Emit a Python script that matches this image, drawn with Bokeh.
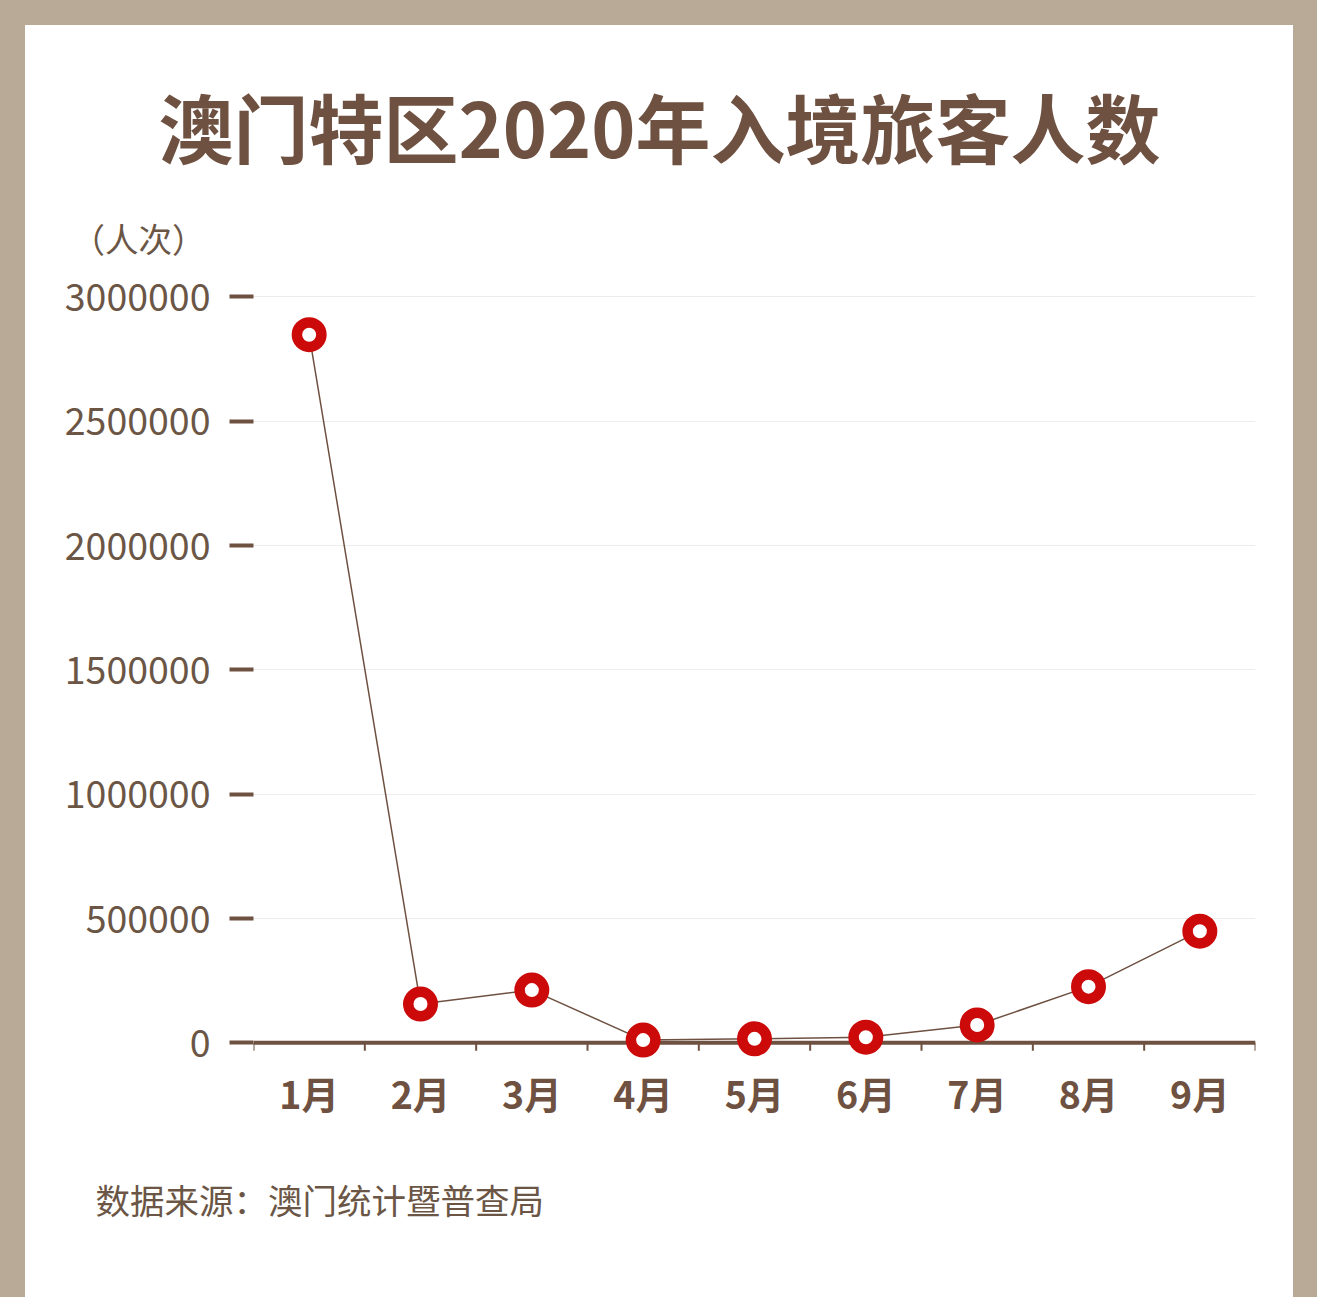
from bokeh.plotting import figure
from bokeh.models import Range1d, FixedTicker, Span, Spacer, NumeralTickFormatter, ColumnDataSource, Title
from bokeh.layouts import column, row
from bokeh.embed import file_html
from bokeh.resources import INLINE

# ---- data ----
months = ["1月", "2月", "3月", "4月", "5月", "6月", "7月", "8月", "9月"]
visitors = [2848000, 156000, 212000, 11000, 16000, 22600, 71800, 226000, 449000]
y_ticks = [0, 500000, 1000000, 1500000, 2000000, 2500000, 3000000]
title_text = "澳门特区2020年入境旅客人数"
unit_text = "（人次）"
source_text = "数据来源：澳门统计暨普查局"

# ---- style ----
BEIGE = "#b9aa97"
BROWN = "#6e5141"
LIGHT_BROWN = "#6b5646"
RED = "#cc0a0a"
FONT = "Noto Sans CJK SC"

S = 1317 / 1333          # scale from reference pixels to our picture
def m(v):
    return v * S

TOTAL_W, TOTAL_H = 1317, 1297
PAD = 25                  # beige border top/left
W = 1268                  # white panel width
H = TOTAL_H - PAD

# frame of main figure (picture coords)
FL, FR = round(m(256)), round(m(1270))
FT, FB = round(m(280)), round(m(1072))
ZERO_Y, TOP_Y = m(1055), m(300)
Y_PER_PX = 3000000 / (ZERO_Y - TOP_Y)

x_pos = [i + 0.5 for i in range(len(months))]
bounds = list(range(len(months) + 1))

p = figure(
    width=W, height=H, output_backend="svg", toolbar_location=None,
    x_range=Range1d(0, len(months)),
    y_range=Range1d(-(FB - ZERO_Y) * Y_PER_PX, 3000000 + (TOP_Y - FT) * Y_PER_PX),
    min_border_left=FL - PAD, min_border_right=PAD + W - FR,
    min_border_top=FT - PAD, min_border_bottom=PAD + H - FB,
    background_fill_color="white", border_fill_color="white",
)
p.outline_line_color = None

# y axis
p.yaxis.ticker = FixedTicker(ticks=y_ticks)
p.yaxis.formatter = NumeralTickFormatter(format="0")
p.yaxis.axis_line_color = None
p.yaxis.major_tick_out = 24
p.yaxis.major_tick_in = 0
p.yaxis.major_tick_line_width = 4
p.yaxis.major_tick_line_color = BROWN
p.yaxis.minor_tick_line_color = None
p.yaxis.major_label_standoff = 19
p.yaxis.major_label_text_font = FONT
p.yaxis.major_label_text_font_size = "37.5px"
p.yaxis.major_label_text_color = LIGHT_BROWN

# x axis (labels only)
p.xaxis.ticker = FixedTicker(ticks=x_pos)
p.xaxis.major_label_overrides = {x: mo for x, mo in zip(x_pos, months)}
p.xaxis.axis_line_color = None
p.xaxis.major_tick_line_color = None
p.xaxis.major_tick_out = 0
p.xaxis.major_tick_in = 0
p.xaxis.minor_tick_line_color = None
p.xaxis.major_label_standoff = 5
p.xaxis.major_label_text_font = FONT
p.xaxis.major_label_text_font_size = "37.5px"
p.xaxis.major_label_text_font_style = "bold"
p.xaxis.major_label_text_color = BROWN

p.xgrid.grid_line_color = None
p.ygrid.grid_line_color = "#ececec"
p.ygrid.grid_line_width = 1

# baseline at zero
p.add_layout(Span(location=0, dimension="width", line_color=BROWN, line_width=4, level="underlay"))

# boundary ticks below the baseline
p.segment(x0=bounds, y0=[0] * len(bounds), x1=bounds, y1=[-8 * Y_PER_PX] * len(bounds),
          line_color=BROWN, line_width=2)

src = ColumnDataSource(dict(x=x_pos, y=visitors))
p.line("x", "y", source=src, line_color=BROWN, line_width=1.5)
p.scatter("x", "y", source=src, size=24.5, line_width=10.5, line_color=RED, fill_color="white")

# titles / notes (panels next to the frame)
p.add_layout(Title(text=unit_text, align="left", offset=round(m(72)) - FL, standoff=32,
                   text_font=FONT, text_font_size="33.5px", text_font_style="normal",
                   text_color=LIGHT_BROWN), "above")
p.add_layout(Title(text=title_text, align="left", offset=158 - FL, standoff=30,
                   text_font=FONT, text_font_size="75px", text_font_style="bold",
                   text_color=BROWN), "above")
p.add_layout(Title(text=source_text, align="left", offset=round(m(96)) - FL, standoff=98,
                   text_font=FONT, text_font_size="34.5px", text_font_style="normal",
                   text_color=LIGHT_BROWN), "below")

top_bar = Spacer(width=TOTAL_W, height=PAD, styles={"background-color": BEIGE})
left_bar = Spacer(width=PAD, height=H, styles={"background-color": BEIGE})
right_bar = Spacer(width=TOTAL_W - PAD - W, height=H, styles={"background-color": BEIGE})
layout = column(top_bar, row(left_bar, p, right_bar))

open("out.html", "w").write(file_html(layout, INLINE))
